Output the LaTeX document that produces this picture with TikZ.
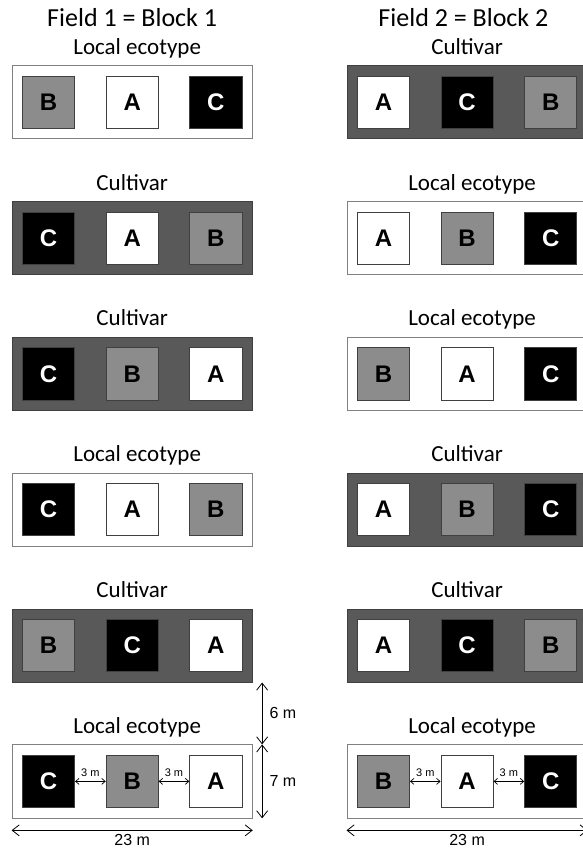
\documentclass[tikz,border=0pt]{standalone}
\usepackage{fontspec}
\setmainfont{Carlito}
\newfontfamily\arialfont{Liberation Sans}
\usetikzlibrary{arrows.meta}

\definecolor{stripgray}{HTML}{595959}
\definecolor{plotgray}{HTML}{8C8C8C}
\definecolor{edgegray}{HTML}{404040}

\tikzset{
  strip/.style={draw=edgegray, line width=0.8pt, inner sep=0pt,
    minimum width=23*\m, minimum height=7*\m},
  local/.style={strip, fill=white, draw=gray},
  cultivar/.style={strip, fill=stripgray},
  plot/.style={draw=edgegray, line width=0.7pt, inner sep=0pt,
    minimum width=5*\m, minimum height=5*\m,
    font=\arialfont\bfseries\fontsize{24}{24}\selectfont},
  plotA/.style={plot, fill=white, text=black},
  plotB/.style={plot, fill=plotgray, text=black},
  plotC/.style={plot, fill=black, text=white},
  rowlabel/.style={anchor=base, inner sep=0pt, font=\fontsize{23}{23}\selectfont},
  title/.style={anchor=base, inner sep=0pt, font=\fontsize{26}{26}\selectfont},
  dim/.style={line width=0.8pt, {Straight Barb[length=7pt,width=11pt]}-{Straight Barb[length=7pt,width=11pt]}},
  smalldim/.style={line width=0.7pt, {Straight Barb[length=3.5pt,width=6pt]}-{Straight Barb[length=3.5pt,width=6pt]}},
  dimlabel/.style={inner sep=1pt, font=\arialfont\fontsize{16}{16}\selectfont},
  smalllabel/.style={inner sep=1pt, font=\arialfont\fontsize{11}{11}\selectfont}
}

\begin{document}
\begin{tikzpicture}[x=10.45pt, y=10.45pt]
\def\m{10.45pt}
\useasboundingbox (-1.15,-3.64) rectangle (54.64,78.28);

% field titles
\node[title] (title1) at (11.5,75.7) {Field 1 = Block 1};
\node[title] (title2) at (43.2,75.7) {Field 2 = Block 2};

% field 1
\foreach \row/\kind/\lbl/\dx/\p/\q/\r in {
    5/local/{Local ecotype}/5/B/A/C,
    4/cultivar/Cultivar/0/C/A/B,
    3/cultivar/Cultivar/0/C/B/A,
    2/local/{Local ecotype}/5/C/A/B,
    1/cultivar/Cultivar/0/B/C/A,
    0/local/{Local ecotype}/5/C/B/A} {
  \node[\kind] (L\row) at (11.5, 13*\row+3.5) {};
  \node[rowlabel] (tL\row) at ([xshift=\dx pt, yshift=11pt]L\row.north) {\lbl};
  \node[plot\p] (L\row-1) at (3.5, 13*\row+3.5) {\p};
  \node[plot\q] (L\row-2) at (11.5, 13*\row+3.5) {\q};
  \node[plot\r] (L\row-3) at (19.5, 13*\row+3.5) {\r};
}

% field 2
\foreach \row/\kind/\lbl/\dx/\p/\q/\r in {
    5/cultivar/Cultivar/0/A/C/B,
    4/local/{Local ecotype}/5/A/B/C,
    3/local/{Local ecotype}/5/B/A/C,
    2/cultivar/Cultivar/0/A/B/C,
    1/cultivar/Cultivar/0/A/C/B,
    0/local/{Local ecotype}/5/B/A/C} {
  \node[\kind] (R\row) at (43.55, 13*\row+3.5) {};
  \node[rowlabel] (tR\row) at ([xshift=\dx pt, yshift=11pt]R\row.north) {\lbl};
  \node[plot\p] (R\row-1) at (35.55, 13*\row+3.5) {\p};
  \node[plot\q] (R\row-2) at (43.55, 13*\row+3.5) {\q};
  \node[plot\r] (R\row-3) at (51.55, 13*\row+3.5) {\r};
}

% dimensions
\coordinate (gapTop) at ([xshift=9.4pt]L1.south east);
\coordinate (gapBot) at ([xshift=9.4pt]L0.north east);
\coordinate (stripBot) at ([xshift=9.4pt]L0.south east);
\draw[dim] (gapTop) -- (gapBot) node[dimlabel, midway, right=6pt] {6 m};
\draw[dim] (gapBot) -- (stripBot) node[dimlabel, midway, right=6pt] {7 m};

\foreach \f in {L,R} {
  \coordinate (\f wa) at ([yshift=-12pt]\f0.south west);
  \coordinate (\f wb) at ([yshift=-12pt]\f0.south east);
  \draw[dim] (\f wa) -- (\f wb) node[dimlabel, midway, below=3pt] {23 m};
  \draw[smalldim] (\f0-1.east) -- (\f0-2.west) node[smalllabel, midway, above=3pt] {3 m};
  \draw[smalldim] (\f0-2.east) -- (\f0-3.west) node[smalllabel, midway, above=3pt] {3 m};
}
\end{tikzpicture}
\end{document}
